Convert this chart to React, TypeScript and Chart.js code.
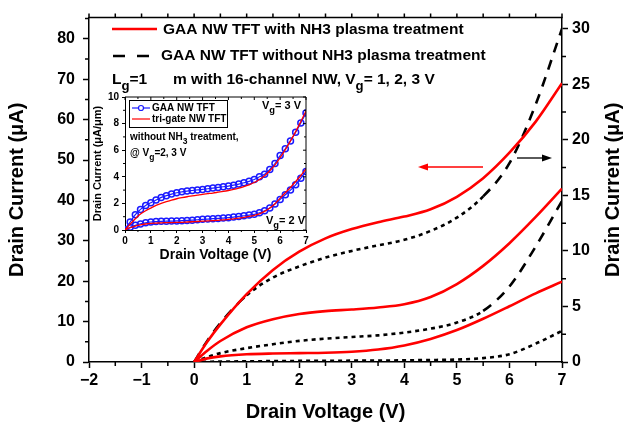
import React, { useEffect, useRef } from "react";
import { Chart, registerables } from "chart.js";
Chart.register(...registerables);

const FONT = "'Liberation Sans', Arial, Helvetica, sans-serif";
const RED = "#ff0000";
const BLUE = "#1a1aff";

// ---------------- main chart data ----------------
const drainVoltage = [0, 0.25, 0.5, 1, 1.5, 2, 2.5, 3, 3.5, 4, 4.5, 5, 5.5, 6, 6.5, 7];
// with NH3 plasma treatment (left axis, uA)
const withNH3Vg3 = [0, 5.0, 9.3, 16.8, 22.8, 27.3, 30.6, 32.9, 34.6, 36.0, 37.8, 40.9, 45.5, 51.8, 59.5, 69.0];
const withNH3Vg2 = [0, 2.8, 5.2, 8.6, 10.6, 11.9, 12.6, 13.0, 13.5, 14.3, 16.1, 19.3, 23.8, 29.4, 35.9, 42.9];
const withNH3Vg1 = [0, 0.9, 1.4, 1.9, 2.1, 2.2, 2.3, 2.55, 3.1, 4.1, 5.7, 7.9, 10.7, 13.8, 17.0, 19.9];
// without NH3 plasma treatment (right axis, uA)
const withoutNH3Vg3 = [0, 1.9, 3.5, 6.0, 7.6, 8.6, 9.4, 10.0, 10.5, 11.0, 11.8, 13.0, 14.9, 17.9, 23.2, 30.0];
const withoutNH3Vg2 = [0, 0.45, 0.8, 1.25, 1.6, 1.9, 2.1, 2.25, 2.4, 2.65, 3.0, 3.55, 4.6, 6.8, 10.4, 14.5];
const withoutNH3Vg1 = [0, 0.02, 0.04, 0.06, 0.08, 0.1, 0.11, 0.12, 0.13, 0.15, 0.18, 0.22, 0.35, 0.7, 1.65, 2.8];

// ---------------- inset data (uA/um) ----------------
const insetVoltage = [0, 0.2, 0.4, 0.6, 0.8, 1.0, 1.2, 1.4, 1.6, 1.8, 2.0, 2.2, 2.4, 2.6, 2.8, 3.0, 3.2, 3.4, 3.6, 3.8, 4.0, 4.2, 4.4, 4.6, 4.8, 5.0, 5.2, 5.4, 5.6, 5.8, 6.0, 6.2, 6.4, 6.6, 6.8, 7.0];
const gaaVg3 = [0, 0.6, 1.15, 1.55, 1.85, 2.05, 2.25, 2.45, 2.58, 2.7, 2.8, 2.87, 2.93, 2.97, 3.01, 3.05, 3.1, 3.15, 3.2, 3.25, 3.3, 3.37, 3.45, 3.55, 3.66, 3.8, 4.0, 4.2, 4.55, 5.0, 5.6, 6.1, 6.7, 7.35, 8.05, 8.8];
const triGateVg3 = [0, 0.45, 0.85, 1.2, 1.45, 1.65, 1.85, 2.0, 2.13, 2.25, 2.35, 2.43, 2.5, 2.56, 2.62, 2.68, 2.73, 2.78, 2.84, 2.9, 2.97, 3.05, 3.15, 3.27, 3.4, 3.57, 3.8, 4.08, 4.45, 4.9, 5.45, 6.05, 6.7, 7.4, 8.15, 8.95];
const gaaVg2 = [0, 0.2, 0.35, 0.46, 0.54, 0.6, 0.63, 0.65, 0.66, 0.67, 0.68, 0.7, 0.72, 0.74, 0.77, 0.8, 0.82, 0.85, 0.87, 0.9, 0.93, 0.97, 1.02, 1.07, 1.12, 1.18, 1.3, 1.45, 1.65, 1.95, 2.3, 2.65, 3.0, 3.4, 3.9, 4.4];
const triGateVg2 = [0, 0.17, 0.3, 0.38, 0.45, 0.5, 0.52, 0.54, 0.55, 0.56, 0.57, 0.58, 0.6, 0.62, 0.64, 0.66, 0.68, 0.7, 0.73, 0.76, 0.8, 0.84, 0.89, 0.95, 1.02, 1.1, 1.22, 1.4, 1.65, 1.98, 2.4, 2.8, 3.2, 3.65, 4.1, 4.6];

const pts = (xs: number[], ys: number[]) => xs.map((x, i) => ({ x, y: ys[i] }));

type Part = { t: string; sub?: boolean };
function drawRich(ctx: CanvasRenderingContext2D, x: number, y: number, parts: Part[], size: number) {
  let cx = x;
  ctx.textAlign = "left";
  ctx.textBaseline = "middle";
  for (const p of parts) {
    const s = p.sub ? size * 0.85 : size;
    ctx.font = `bold ${s}px ${FONT}`;
    ctx.fillText(p.t, cx, p.sub ? y + size * 0.42 : y);
    cx += ctx.measureText(p.t).width;
  }
}

function arrow(ctx: CanvasRenderingContext2D, x0: number, y0: number, x1: number, y1: number, color: string) {
  ctx.save();
  ctx.strokeStyle = color;
  ctx.fillStyle = color;
  ctx.lineWidth = 1.3;
  const dir = Math.sign(x1 - x0);
  ctx.beginPath();
  ctx.moveTo(x0, y0);
  ctx.lineTo(x1 - dir * 6, y1);
  ctx.stroke();
  ctx.beginPath();
  ctx.moveTo(x1, y1);
  ctx.lineTo(x1 - dir * 10, y1 - 3.5);
  ctx.lineTo(x1 - dir * 10, y1 + 3.5);
  ctx.closePath();
  ctx.fill();
  ctx.restore();
}

const dashBySlope = (c: any) => {
  const dx = Math.abs(c.p1.x - c.p0.x);
  const dy = Math.abs(c.p1.y - c.p0.y);
  return dy > 0.9 * dx ? [10, 8] : [4, 4];
};

const mainDecor = {
  id: "mainDecor",
  afterDraw(chart: any) {
    const { ctx, chartArea, scales } = chart;
    const { left, right, top, bottom } = chartArea;
    ctx.save();
    ctx.strokeStyle = "#000";
    ctx.lineWidth = 1.5;
    ctx.beginPath();
    ctx.moveTo(left - 0.75, top);
    ctx.lineTo(right + 0.75, top);
    const sx = scales.x;
    for (let v = -2; v <= 7.001; v += 0.5) {
      const px = sx.getPixelForValue(v);
      ctx.moveTo(px, top);
      ctx.lineTo(px, top - 4);
      if (Math.abs(v - Math.round(v)) > 0.1) {
        ctx.moveTo(px, bottom);
        ctx.lineTo(px, bottom + 4);
      }
    }
    const sy = scales.y;
    for (let v = 5; v <= 85; v += 10) {
      const py = sy.getPixelForValue(v);
      ctx.moveTo(left, py);
      ctx.lineTo(left - 4, py);
    }
    const sy1 = scales.y1;
    for (let v = 2.5; v <= 30; v += 5) {
      const py = sy1.getPixelForValue(v);
      ctx.moveTo(right, py);
      ctx.lineTo(right + 4, py);
    }
    ctx.stroke();

    // right axis title (reads bottom to top)
    ctx.save();
    ctx.translate(613, (top + bottom) / 2);
    ctx.rotate(-Math.PI / 2);
    ctx.fillStyle = "#000";
    ctx.font = `bold 20px ${FONT}`;
    ctx.textAlign = "center";
    ctx.textBaseline = "middle";
    ctx.fillText("Drain Current (μA)", 0, 0);
    ctx.restore();

    // legend
    ctx.lineWidth = 2.5;
    ctx.strokeStyle = RED;
    ctx.beginPath();
    ctx.moveTo(112, 29);
    ctx.lineTo(157, 29);
    ctx.stroke();
    ctx.strokeStyle = "#000";
    ctx.beginPath();
    ctx.moveTo(113, 56);
    ctx.lineTo(125, 56);
    ctx.moveTo(137, 56);
    ctx.lineTo(149, 56);
    ctx.stroke();
    ctx.fillStyle = "#000";
    drawRich(ctx, 163, 30, [{ t: "GAA NW TFT with NH3 plasma treatment" }], 15.5);
    drawRich(ctx, 161, 56, [{ t: "GAA NW TFT without NH3 plasma treatment" }], 15.5);
    drawRich(
      ctx,
      112,
      80,
      [
        { t: "L" },
        { t: "g", sub: true },
        { t: "=1      m with 16-channel NW, V" },
        { t: "g", sub: true },
        { t: "= 1, 2, 3 V" },
      ],
      15.5
    );

    arrow(ctx, 483, 167, 418, 167, RED);
    arrow(ctx, 517, 158, 552, 158, "#000");
    ctx.restore();
  },
};

const insetDecor = {
  id: "insetDecor",
  afterDraw(chart: any) {
    const { ctx, chartArea, scales } = chart;
    const { left, right, top, bottom } = chartArea;
    ctx.save();
    ctx.strokeStyle = "#000";
    ctx.lineWidth = 1;
    ctx.beginPath();
    ctx.moveTo(left, top);
    ctx.lineTo(right, top);
    ctx.lineTo(right, bottom);
    const sx = scales.x;
    for (let v = 0; v <= 7.001; v += 0.5) {
      const px = sx.getPixelForValue(v);
      const major = Math.abs(v - Math.round(v)) < 0.1;
      if (!major) {
        ctx.moveTo(px, bottom);
        ctx.lineTo(px, bottom + 2);
      }
      ctx.moveTo(px, top);
      ctx.lineTo(px, top + (major ? 3 : 2));
    }
    const sy = scales.y;
    for (let v = 0; v <= 10.001; v += 1) {
      const py = sy.getPixelForValue(v);
      const major = v % 2 === 0;
      if (!major) {
        ctx.moveTo(left, py);
        ctx.lineTo(left - 2, py);
      }
      ctx.moveTo(right, py);
      ctx.lineTo(right - (major ? 3 : 2), py);
    }
    ctx.stroke();

    // legend box
    ctx.lineWidth = 1;
    ctx.strokeRect(49.5, 12.5, 98, 27);
    ctx.strokeStyle = BLUE;
    ctx.lineWidth = 1.2;
    ctx.beginPath();
    ctx.moveTo(52, 20);
    ctx.lineTo(70, 20);
    ctx.stroke();
    ctx.beginPath();
    ctx.arc(61, 20, 2.5, 0, Math.PI * 2);
    ctx.fillStyle = "#fff";
    ctx.fill();
    ctx.stroke();
    ctx.strokeStyle = RED;
    ctx.beginPath();
    ctx.moveTo(52, 31);
    ctx.lineTo(70, 31);
    ctx.stroke();
    ctx.fillStyle = "#000";
    drawRich(ctx, 72, 20, [{ t: "GAA NW TFT" }], 10);
    drawRich(ctx, 72, 31, [{ t: "tri-gate NW TFT" }], 10);

    drawRich(ctx, 50, 49, [{ t: "without NH" }, { t: "3", sub: true }, { t: " treatment," }], 10);
    drawRich(ctx, 50, 65, [{ t: "@ V" }, { t: "g", sub: true }, { t: "=2, 3 V" }], 10);
    drawRich(ctx, 182, 18, [{ t: "V" }, { t: "g", sub: true }, { t: "= 3 V" }], 11);
    drawRich(ctx, 186, 133, [{ t: "V" }, { t: "g", sub: true }, { t: "= 2 V" }], 11);
    ctx.restore();
  },
};

export default function App() {
  const mainRef = useRef<HTMLCanvasElement>(null);
  const insetRef = useRef<HTMLCanvasElement>(null);

  useEffect(() => {
    Chart.defaults.font.family = FONT;
    Chart.defaults.color = "#000";
    const tickFont = { family: FONT, size: 16, weight: "bold" as const };
    const axisCommon = {
      grid: { drawOnChartArea: false, drawTicks: true, tickLength: 6, tickColor: "#000", tickWidth: 1.5 },
      border: { display: true, color: "#000", width: 1.5 },
    };
    const redLine = (label: string, ys: number[]) => ({
      label,
      data: pts(drainVoltage, ys),
      borderColor: RED,
      borderWidth: 2.6,
      pointRadius: 0,
      yAxisID: "y",
      cubicInterpolationMode: "monotone" as const,
    });
    const blackLine = (label: string, ys: number[]) => ({
      label,
      data: pts(drainVoltage, ys),
      borderColor: "#000",
      borderWidth: 2.6,
      borderDash: [4, 4],
      segment: { borderDash: dashBySlope },
      pointRadius: 0,
      yAxisID: "y1",
      cubicInterpolationMode: "monotone" as const,
    });

    const main = new Chart(mainRef.current!, {
      type: "line",
      data: {
        datasets: [
          redLine("with NH3, Vg=3 V", withNH3Vg3),
          redLine("with NH3, Vg=2 V", withNH3Vg2),
          redLine("with NH3, Vg=1 V", withNH3Vg1),
          blackLine("without NH3, Vg=3 V", withoutNH3Vg3),
          blackLine("without NH3, Vg=2 V", withoutNH3Vg2),
          blackLine("without NH3, Vg=1 V", withoutNH3Vg1),
        ],
      },
      options: {
        animation: false,
        responsive: false,
        devicePixelRatio: 1,
        layout: { padding: { top: 10, left: 0, right: 0, bottom: 0 } },
        plugins: { legend: { display: false }, tooltip: { enabled: false } },
        scales: {
          x: {
            type: "linear",
            min: -2,
            max: 7,
            ...axisCommon,
            ticks: {
              stepSize: 1,
              font: tickFont,
              color: "#000",
              padding: 3,
              callback: (v: any) => (Number(v) < 0 ? "\u2212" + Math.abs(Number(v)) : String(v)),
            },
            title: { display: true, text: "Drain Voltage (V)", font: { family: FONT, size: 20, weight: "bold" }, padding: { top: 0, bottom: 3 } },
            afterFit: (s: any) => {
              s.height = 65;
            },
          },
          y: {
            type: "linear",
            position: "left",
            min: 0,
            max: 85.25,
            ...axisCommon,
            ticks: { stepSize: 10, includeBounds: false, font: tickFont, color: "#000", padding: 8 },
            title: { display: true, text: "Drain Current (μA)", font: { family: FONT, size: 20, weight: "bold" }, padding: { top: 5, bottom: 0 } },
            afterFit: (s: any) => {
              s.width = 89;
            },
          },
          y1: {
            type: "linear",
            position: "right",
            min: 0,
            max: 31,
            ...axisCommon,
            ticks: { stepSize: 5, includeBounds: false, font: tickFont, color: "#000", padding: 4 },
            afterFit: (s: any) => {
              s.width = 68;
            },
          },
        },
      },
      plugins: [mainDecor],
    });

    const smallTick = { family: FONT, size: 10, weight: "bold" as const };
    const insetAxis = {
      grid: { drawOnChartArea: false, drawTicks: true, tickLength: 3, tickColor: "#000", tickWidth: 1 },
      border: { display: true, color: "#000", width: 1 },
    };
    const gaaStyle = {
      borderColor: BLUE,
      backgroundColor: "rgba(255,255,255,0)",
      borderWidth: 1.2,
      pointRadius: 3,
      pointBorderWidth: 1.5,
      pointBorderColor: BLUE,
      pointBackgroundColor: "rgba(255,255,255,0)",
      cubicInterpolationMode: "monotone" as const,
    };
    const triStyle = {
      borderColor: RED,
      borderWidth: 1.3,
      pointRadius: 0,
      cubicInterpolationMode: "monotone" as const,
    };
    const inset = new Chart(insetRef.current!, {
      type: "line",
      data: {
        datasets: [
          { label: "tri-gate NW TFT Vg=3 V", data: pts(insetVoltage, triGateVg3), ...triStyle },
          { label: "tri-gate NW TFT Vg=2 V", data: pts(insetVoltage, triGateVg2), ...triStyle },
          { label: "GAA NW TFT Vg=3 V", data: pts(insetVoltage, gaaVg3), ...gaaStyle },
          { label: "GAA NW TFT Vg=2 V", data: pts(insetVoltage, gaaVg2), ...gaaStyle },
        ],
      },
      options: {
        animation: false,
        responsive: false,
        devicePixelRatio: 1,
        layout: { padding: { top: 9, right: 14, left: 0, bottom: 0 } },
        plugins: { legend: { display: false }, tooltip: { enabled: false } },
        scales: {
          x: {
            type: "linear",
            min: 0,
            max: 7,
            ...insetAxis,
            ticks: { stepSize: 1, font: smallTick, color: "#000", padding: 2 },
            title: { display: true, text: "Drain Voltage (V)", font: { family: FONT, size: 14, weight: "bold" }, padding: { top: 0, bottom: 4 } },
            afterFit: (s: any) => {
              s.height = 38;
            },
          },
          y: {
            type: "linear",
            min: 0,
            max: 10,
            ...insetAxis,
            ticks: { stepSize: 2, font: smallTick, color: "#000", padding: 3 },
            title: { display: true, text: "Drain Current (μA/μm)", font: { family: FONT, size: 11, weight: "bold" }, padding: { top: 11, bottom: 0 } },
            afterFit: (s: any) => {
              s.width = 45;
            },
          },
        },
      },
      plugins: [insetDecor],
    });

    return () => {
      main.destroy();
      inset.destroy();
    };
  }, []);

  return (
    <div style={{ position: "absolute", left: 0, top: 0, width: 630, height: 427, background: "#fff" }}>
      <canvas ref={mainRef} width={630} height={427} style={{ position: "absolute", left: 0, top: 0, width: 630, height: 427 }} />
      <canvas ref={insetRef} width={240} height={180} style={{ position: "absolute", left: 80, top: 88, width: 240, height: 180 }} />
    </div>
  );
}
